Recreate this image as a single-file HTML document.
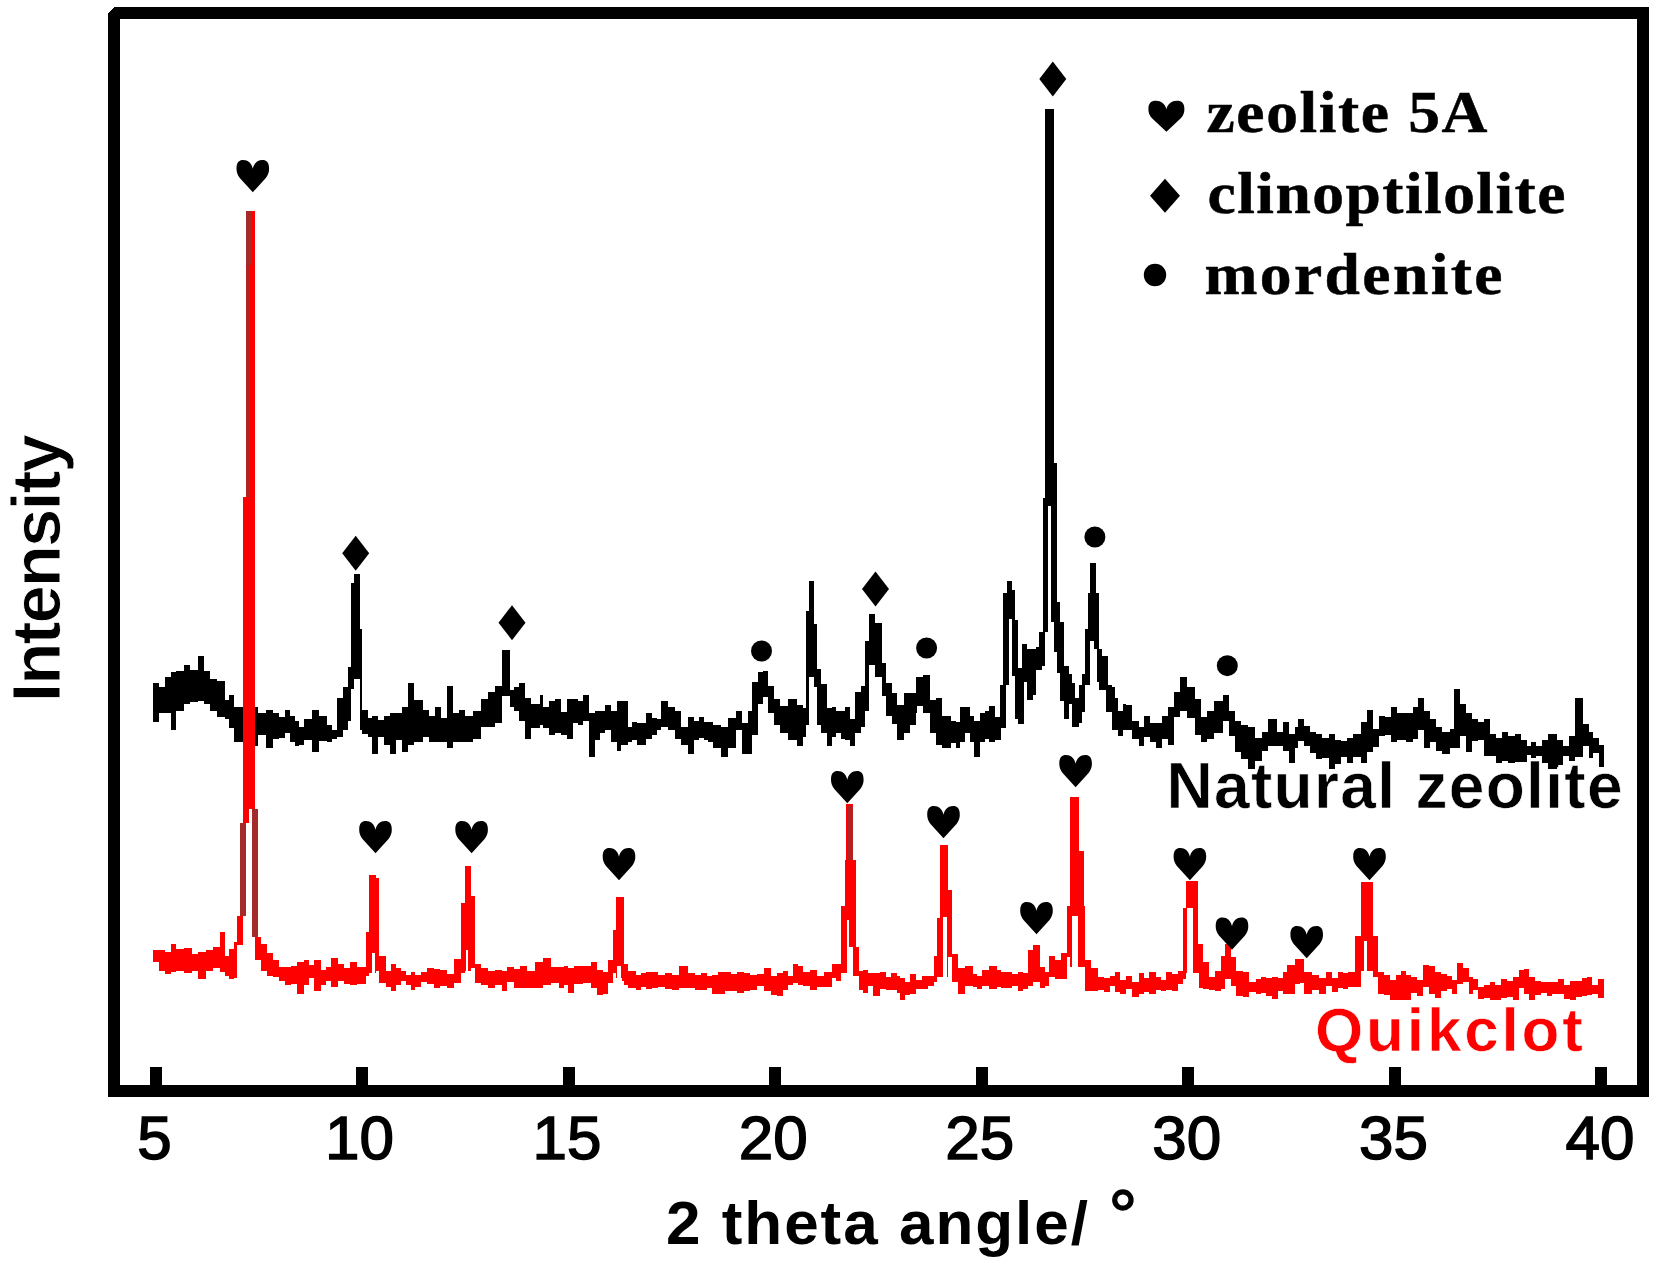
<!DOCTYPE html>
<html lang="en"><head><meta charset="utf-8"><title>XRD patterns of natural zeolite and Quikclot</title>
<style>html,body{margin:0;padding:0;background:#fff}body{width:1656px;height:1266px;overflow:hidden}svg{display:block}.sans{font-family:"Liberation Sans",Arial,Helvetica,sans-serif}.serif{font-family:"Liberation Serif","Times New Roman",Times,serif}</style></head><body>
<svg width="1656" height="1266" viewBox="0 0 1656 1266">
<rect x="0" y="0" width="1656" height="1266" fill="#fff"/>
<g class="sans" font-weight="bold" fill="#000">
<text id="lbl-nz" x="1166.5" y="808" font-size="64" textLength="456" lengthAdjust="spacing" stroke="#fff" stroke-width="0.6">Natural zeolite</text>
</g>
<g id="curve-natural-zeolite" fill="#000" stroke="none" shape-rendering="crispEdges">
<path d="M153.3 683.0 L159.3 683.0 L159.3 686.7 L165.4 686.7 L165.4 677.0 L171.4 677.0 L171.4 672.2 L176.2 672.2 L176.2 671.0 L183.5 671.0 L183.5 664.9 L189.5 664.9 L189.5 669.8 L198.0 669.8 L198.0 656.0 L204.0 656.0 L204.0 671.0 L210.0 671.0 L210.0 679.4 L217.3 679.4 L217.3 680.6 L224.5 680.6 L224.5 699.5 L229.4 699.5 L229.4 695.1 L234.2 695.1 L234.2 707.2 L242.7 707.2 L242.7 708.4 L248.7 708.4 L248.7 716.9 L254.7 716.9 L254.7 707.2 L258.4 707.2 L258.4 713.2 L265.6 713.2 L265.6 709.6 L272.9 709.6 L272.9 713.2 L278.9 713.2 L278.9 716.6 L284.9 716.6 L284.9 709.6 L289.8 709.6 L289.8 716.0 L294.6 716.0 L294.6 720.5 L299.4 720.5 L299.4 726.8 L304.3 726.8 L304.3 719.3 L311.5 719.3 L311.5 709.6 L318.7 709.6 L318.7 715.7 L327.2 715.7 L327.2 725.3 L332.0 725.3 L332.0 729.8 L336.9 729.8 L336.9 697.5 L342.9 697.5 L342.9 686.7 L347.7 686.7 L347.7 667.3 L351.4 667.3 L351.4 582.8 L353.8 582.8 L353.8 574.3 L359.8 574.3 L359.8 628.7 L362.2 628.7 L362.2 709.6 L368.3 709.6 L368.3 718.1 L371.9 718.1 L371.9 715.7 L377.9 715.7 L377.9 719.5 L384.0 719.5 L384.0 715.7 L390.0 715.7 L390.0 713.2 L396.0 713.2 L396.0 713.2 L402.1 713.2 L402.1 707.2 L408.1 707.2 L408.1 683.0 L414.2 683.0 L414.2 700.0 L422.6 700.0 L422.6 709.6 L428.6 709.6 L428.6 716.1 L434.7 716.1 L434.7 707.2 L440.7 707.2 L440.7 718.1 L446.8 718.1 L446.8 685.5 L452.8 685.5 L452.8 713.2 L458.8 713.2 L458.8 709.6 L464.9 709.6 L464.9 715.7 L473.3 715.7 L473.3 710.8 L480.6 710.8 L480.6 698.7 L487.8 698.7 L487.8 691.5 L495.1 691.5 L495.1 685.5 L502.3 685.5 L502.3 650.4 L509.6 650.4 L509.6 689.6 L514.4 689.6 L514.4 686.7 L519.2 686.7 L519.2 683.0 L525.3 683.0 L525.3 697.5 L531.3 697.5 L531.3 703.6 L540.0 703.6 L540.0 695.1 L542.9 695.1 L542.9 707.2 L549.0 707.2 L549.0 701.2 L555.0 701.2 L555.0 698.7 L561.1 698.7 L561.1 712.0 L567.1 712.0 L567.1 698.7 L573.1 698.7 L573.1 698.7 L578.0 698.7 L578.0 700.6 L582.8 700.6 L582.8 695.1 L588.8 695.1 L588.8 713.2 L594.9 713.2 L594.9 711.4 L599.7 711.4 L599.7 710.8 L604.5 710.8 L604.5 704.8 L610.6 704.8 L610.6 710.8 L616.6 710.8 L616.6 701.2 L621.4 701.2 L621.4 701.2 L627.5 701.2 L627.5 726.9 L632.3 726.9 L632.3 721.7 L637.1 721.7 L637.1 722.9 L645.6 722.9 L645.6 713.2 L651.6 713.2 L651.6 718.1 L656.5 718.1 L656.5 719.2 L661.3 719.2 L661.3 701.2 L667.9 701.2 L667.9 707.3 L674.6 707.3 L674.6 710.8 L680.6 710.8 L680.6 726.5 L687.9 726.5 L687.9 716.9 L693.9 716.9 L693.9 720.8 L698.7 720.8 L698.7 716.9 L703.6 716.9 L703.6 722.2 L708.4 722.2 L708.4 721.7 L713.2 721.7 L713.2 725.3 L720.5 725.3 L720.5 726.5 L727.7 726.5 L727.7 718.1 L736.2 718.1 L736.2 710.8 L742.2 710.8 L742.2 722.9 L748.3 722.9 L748.3 710.8 L751.9 710.8 L751.9 681.8 L757.9 681.8 L757.9 672.3 L762.8 672.3 L762.8 671.0 L767.6 671.0 L767.6 685.5 L773.6 685.5 L773.6 698.7 L779.7 698.7 L779.7 706.0 L788.1 706.0 L788.1 698.7 L796.6 698.7 L796.6 704.8 L802.6 704.8 L802.6 708.4 L806.2 708.4 L806.2 610.6 L808.6 610.6 L808.6 580.9 L813.5 580.9 L813.5 623.9 L817.1 623.9 L817.1 668.6 L820.7 668.6 L820.7 684.3 L826.8 684.3 L826.8 708.4 L831.6 708.4 L831.6 707.2 L836.4 707.2 L836.4 711.4 L841.3 711.4 L841.3 710.8 L844.9 710.8 L844.9 707.2 L849.7 707.2 L849.7 718.6 L854.5 718.6 L854.5 691.5 L860.6 691.5 L860.6 685.5 L865.4 685.5 L865.4 640.8 L869.0 640.8 L869.0 614.2 L875.1 614.2 L875.1 622.7 L882.3 622.7 L882.3 662.5 L885.9 662.5 L885.9 683.0 L892.0 683.0 L892.0 692.7 L896.8 692.7 L896.8 704.8 L904.1 704.8 L904.1 692.7 L910.1 692.7 L910.1 692.7 L916.1 692.7 L916.1 677.0 L916.9 677.0 L916.9 677.0 L922.9 677.0 L922.9 674.6 L930.2 674.6 L930.2 700.0 L936.2 700.0 L936.2 697.5 L942.3 697.5 L942.3 715.7 L950.7 715.7 L950.7 720.5 L955.6 720.5 L955.6 721.5 L960.4 721.5 L960.4 707.2 L965.2 707.2 L965.2 707.2 L970.0 707.2 L970.0 715.7 L973.7 715.7 L973.7 720.5 L979.7 720.5 L979.7 712.8 L984.5 712.8 L984.5 710.8 L989.4 710.8 L989.4 706.0 L995.4 706.0 L995.4 716.7 L1001.4 716.7 L1001.4 739.9 L995.4 739.9 L995.4 742.2 L989.4 742.2 L989.4 738.5 L984.5 738.5 L984.5 742.2 L979.7 742.2 L979.7 756.7 L973.7 756.7 L973.7 742.2 L970.0 742.2 L970.0 733.1 L965.2 733.1 L965.2 742.2 L960.4 742.2 L960.4 748.3 L955.6 748.3 L955.6 742.9 L950.7 742.9 L950.7 748.3 L942.3 748.3 L942.3 744.6 L936.2 744.6 L936.2 732.6 L930.2 732.6 L930.2 713.2 L922.9 713.2 L922.9 706.0 L916.9 706.0 L916.9 713.2 L916.1 713.2 L916.1 725.3 L910.1 725.3 L910.1 732.6 L904.1 732.6 L904.1 739.8 L896.8 739.8 L896.8 724.1 L892.0 724.1 L892.0 715.7 L885.9 715.7 L885.9 696.3 L882.3 696.3 L882.3 677.0 L875.1 677.0 L875.1 664.9 L869.0 664.9 L869.0 710.8 L865.4 710.8 L865.4 726.5 L860.6 726.5 L860.6 732.6 L854.5 732.6 L854.5 745.8 L849.7 745.8 L849.7 739.9 L844.9 739.9 L844.9 738.6 L841.3 738.6 L841.3 733.0 L836.4 733.0 L836.4 737.4 L831.6 737.4 L831.6 745.8 L826.8 745.8 L826.8 732.6 L820.7 732.6 L820.7 725.3 L817.1 725.3 L817.1 686.7 L813.5 686.7 L813.5 677.0 L808.6 677.0 L808.6 725.3 L806.2 725.3 L806.2 737.4 L802.6 737.4 L802.6 745.8 L796.6 745.8 L796.6 739.8 L788.1 739.8 L788.1 732.6 L779.7 732.6 L779.7 725.3 L773.6 725.3 L773.6 713.2 L767.6 713.2 L767.6 696.7 L762.8 696.7 L762.8 703.6 L757.9 703.6 L757.9 735.0 L751.9 735.0 L751.9 754.3 L748.3 754.3 L748.3 754.3 L742.2 754.3 L742.2 730.1 L736.2 730.1 L736.2 748.3 L727.7 748.3 L727.7 756.7 L720.5 756.7 L720.5 748.3 L713.2 748.3 L713.2 742.2 L708.4 742.2 L708.4 740.2 L703.6 740.2 L703.6 738.4 L698.7 738.4 L698.7 739.8 L693.9 739.8 L693.9 754.3 L687.9 754.3 L687.9 744.6 L680.6 744.6 L680.6 738.6 L674.6 738.6 L674.6 730.1 L667.9 730.1 L667.9 726.9 L661.3 726.9 L661.3 730.3 L656.5 730.3 L656.5 735.0 L651.6 735.0 L651.6 738.6 L645.6 738.6 L645.6 744.6 L637.1 744.6 L637.1 739.8 L632.3 739.8 L632.3 742.2 L627.5 742.2 L627.5 744.6 L621.4 744.6 L621.4 750.7 L616.6 750.7 L616.6 742.2 L610.6 742.2 L610.6 730.1 L604.5 730.1 L604.5 733.1 L599.7 733.1 L599.7 739.8 L594.9 739.8 L594.9 756.7 L588.8 756.7 L588.8 720.5 L582.8 720.5 L582.8 725.3 L578.0 725.3 L578.0 722.8 L573.1 722.8 L573.1 738.6 L567.1 738.6 L567.1 735.0 L561.1 735.0 L561.1 732.6 L555.0 732.6 L555.0 735.0 L549.0 735.0 L549.0 727.7 L542.9 727.7 L542.9 725.3 L540.0 725.3 L540.0 727.7 L531.3 727.7 L531.3 738.6 L525.3 738.6 L525.3 720.5 L519.2 720.5 L519.2 710.8 L514.4 710.8 L514.4 706.8 L509.6 706.8 L509.6 696.3 L502.3 696.3 L502.3 722.9 L495.1 722.9 L495.1 726.5 L487.8 726.5 L487.8 726.5 L480.6 726.5 L480.6 738.6 L473.3 738.6 L473.3 742.2 L464.9 742.2 L464.9 742.2 L458.8 742.2 L458.8 742.2 L452.8 742.2 L452.8 748.3 L446.8 748.3 L446.8 742.2 L440.7 742.2 L440.7 742.2 L434.7 742.2 L434.7 742.2 L428.6 742.2 L428.6 737.3 L422.6 737.3 L422.6 742.2 L414.2 742.2 L414.2 744.6 L408.1 744.6 L408.1 751.9 L402.1 751.9 L402.1 739.8 L396.0 739.8 L396.0 754.3 L390.0 754.3 L390.0 744.6 L384.0 744.6 L384.0 737.3 L377.9 737.3 L377.9 754.3 L371.9 754.3 L371.9 737.4 L368.3 737.4 L368.3 733.8 L362.2 733.8 L362.2 730.1 L359.8 730.1 L359.8 679.4 L353.8 679.4 L353.8 689.1 L351.4 689.1 L351.4 720.5 L347.7 720.5 L347.7 730.1 L342.9 730.1 L342.9 737.4 L336.9 737.4 L336.9 739.2 L332.0 739.2 L332.0 742.2 L327.2 742.2 L327.2 741.0 L318.7 741.0 L318.7 751.9 L311.5 751.9 L311.5 739.8 L304.3 739.8 L304.3 745.4 L299.4 745.4 L299.4 745.8 L294.6 745.8 L294.6 742.2 L289.8 742.2 L289.8 732.8 L284.9 732.8 L284.9 737.5 L278.9 737.5 L278.9 738.6 L272.9 738.6 L272.9 748.3 L265.6 748.3 L265.6 735.0 L258.4 735.0 L258.4 745.8 L254.7 745.8 L254.7 738.4 L248.7 738.4 L248.7 743.4 L242.7 743.4 L242.7 742.2 L234.2 742.2 L234.2 727.7 L229.4 727.7 L229.4 719.4 L224.5 719.4 L224.5 716.9 L217.3 716.9 L217.3 710.8 L210.0 710.8 L210.0 703.6 L204.0 703.6 L204.0 701.2 L198.0 701.2 L198.0 702.4 L189.5 702.4 L189.5 703.6 L183.5 703.6 L183.5 710.8 L176.2 710.8 L176.2 730.1 L171.4 730.1 L171.4 713.2 L165.4 713.2 L165.4 713.2 L159.3 713.2 L159.3 721.7 L153.3 721.7Z"/>
<path d="M1125.8 704.8 L1131.9 704.8 L1131.9 720.5 L1139.1 720.5 L1139.1 726.5 L1144.0 726.5 L1144.0 715.7 L1150.0 715.7 L1150.0 722.9 L1156.0 722.9 L1156.0 722.9 L1162.1 722.9 L1162.1 715.7 L1168.1 715.7 L1168.1 707.2 L1174.2 707.2 L1174.2 691.5 L1180.2 691.5 L1180.2 677.0 L1187.4 677.0 L1187.4 686.7 L1194.7 686.7 L1194.7 698.7 L1200.7 698.7 L1200.7 716.9 L1206.8 716.9 L1206.8 710.8 L1214.0 710.8 L1214.0 701.2 L1222.5 701.2 L1222.5 695.1 L1228.5 695.1 L1228.5 710.8 L1234.5 710.8 L1234.5 720.5 L1240.6 720.5 L1240.6 725.3 L1247.8 725.3 L1247.8 726.5 L1255.1 726.5 L1255.1 737.5 L1262.0 737.5 L1262.0 731.5 L1268.1 731.5 L1268.1 719.4 L1276.5 719.4 L1276.5 731.5 L1282.6 731.5 L1282.6 721.8 L1288.6 721.8 L1288.6 733.9 L1294.6 733.9 L1294.6 726.7 L1298.3 726.7 L1298.3 719.4 L1304.3 719.4 L1304.3 725.5 L1310.3 725.5 L1310.3 731.5 L1316.4 731.5 L1316.4 733.9 L1322.4 733.9 L1322.4 737.5 L1328.5 737.5 L1328.5 733.9 L1334.5 733.9 L1334.5 740.0 L1340.5 740.0 L1340.5 741.2 L1346.6 741.2 L1346.6 737.5 L1352.6 737.5 L1352.6 733.9 L1361.1 733.9 L1361.1 721.8 L1367.1 721.8 L1367.1 710.2 L1373.1 710.2 L1373.1 729.1 L1379.2 729.1 L1379.2 715.8 L1385.2 715.8 L1385.2 717.0 L1391.3 717.0 L1391.3 707.3 L1397.3 707.3 L1397.3 713.4 L1405.8 713.4 L1405.8 713.4 L1413.0 713.4 L1413.0 707.3 L1417.8 707.3 L1417.8 697.7 L1423.9 697.7 L1423.9 711.0 L1429.9 711.0 L1429.9 719.4 L1436.0 719.4 L1436.0 726.7 L1442.0 726.7 L1442.0 731.5 L1450.4 731.5 L1450.4 729.1 L1454.1 729.1 L1454.1 689.2 L1460.1 689.2 L1460.1 703.7 L1466.1 703.7 L1466.1 713.4 L1472.2 713.4 L1472.2 719.4 L1478.2 719.4 L1478.2 721.8 L1484.3 721.8 L1484.3 719.4 L1490.3 719.4 L1490.3 733.9 L1496.3 733.9 L1496.3 737.5 L1502.4 737.5 L1502.4 731.5 L1508.4 731.5 L1508.4 736.3 L1514.5 736.3 L1514.5 733.9 L1520.5 733.9 L1520.5 740.0 L1526.5 740.0 L1526.5 745.5 L1531.4 745.5 L1531.4 742.4 L1536.2 742.4 L1536.2 746.0 L1542.2 746.0 L1542.2 740.0 L1548.3 740.0 L1548.3 733.9 L1556.7 733.9 L1556.7 740.0 L1562.8 740.0 L1562.8 746.0 L1568.8 746.0 L1568.8 736.3 L1574.8 736.3 L1574.8 697.7 L1583.3 697.7 L1583.3 724.3 L1589.3 724.3 L1589.3 731.5 L1593.0 731.5 L1593.0 737.5 L1599.0 737.5 L1599.0 744.8 L1603.8 744.8 L1603.8 766.5 L1599.0 766.5 L1599.0 753.2 L1593.0 753.2 L1593.0 758.1 L1589.3 758.1 L1589.3 746.0 L1583.3 746.0 L1583.3 756.9 L1574.8 756.9 L1574.8 760.5 L1568.8 760.5 L1568.8 755.7 L1562.8 755.7 L1562.8 765.3 L1556.7 765.3 L1556.7 768.9 L1548.3 768.9 L1548.3 762.9 L1542.2 762.9 L1542.2 755.7 L1536.2 755.7 L1536.2 758.1 L1531.4 758.1 L1531.4 754.9 L1526.5 754.9 L1526.5 761.7 L1520.5 761.7 L1520.5 761.7 L1514.5 761.7 L1514.5 762.9 L1508.4 762.9 L1508.4 760.5 L1502.4 760.5 L1502.4 762.9 L1496.3 762.9 L1496.3 755.7 L1490.3 755.7 L1490.3 755.7 L1484.3 755.7 L1484.3 740.0 L1478.2 740.0 L1478.2 741.2 L1472.2 741.2 L1472.2 752.0 L1466.1 752.0 L1466.1 736.3 L1460.1 736.3 L1460.1 748.4 L1454.1 748.4 L1454.1 748.4 L1450.4 748.4 L1450.4 754.4 L1442.0 754.4 L1442.0 750.8 L1436.0 750.8 L1436.0 742.4 L1429.9 742.4 L1429.9 748.4 L1423.9 748.4 L1423.9 730.3 L1417.8 730.3 L1417.8 738.7 L1413.0 738.7 L1413.0 742.4 L1405.8 742.4 L1405.8 740.0 L1397.3 740.0 L1397.3 742.4 L1391.3 742.4 L1391.3 735.1 L1385.2 735.1 L1385.2 736.3 L1379.2 736.3 L1379.2 747.2 L1373.1 747.2 L1373.1 752.0 L1367.1 752.0 L1367.1 762.9 L1361.1 762.9 L1361.1 756.9 L1352.6 756.9 L1352.6 762.9 L1346.6 762.9 L1346.6 756.9 L1340.5 756.9 L1340.5 764.1 L1334.5 764.1 L1334.5 768.9 L1328.5 768.9 L1328.5 758.1 L1322.4 758.1 L1322.4 759.3 L1316.4 759.3 L1316.4 753.2 L1310.3 753.2 L1310.3 746.0 L1304.3 746.0 L1304.3 741.2 L1298.3 741.2 L1298.3 748.4 L1294.6 748.4 L1294.6 762.9 L1288.6 762.9 L1288.6 750.8 L1282.6 750.8 L1282.6 746.0 L1276.5 746.0 L1276.5 746.0 L1268.1 746.0 L1268.1 750.8 L1262.0 750.8 L1262.0 760.5 L1255.1 760.5 L1255.1 768.8 L1247.8 768.8 L1247.8 759.1 L1240.6 759.1 L1240.6 751.9 L1234.5 751.9 L1234.5 736.2 L1228.5 736.2 L1228.5 720.5 L1222.5 720.5 L1222.5 732.6 L1214.0 732.6 L1214.0 738.6 L1206.8 738.6 L1206.8 742.2 L1200.7 742.2 L1200.7 735.0 L1194.7 735.0 L1194.7 718.1 L1187.4 718.1 L1187.4 710.8 L1180.2 710.8 L1180.2 716.9 L1174.2 716.9 L1174.2 744.6 L1168.1 744.6 L1168.1 738.6 L1162.1 738.6 L1162.1 748.3 L1156.0 748.3 L1156.0 742.2 L1150.0 742.2 L1150.0 737.4 L1144.0 737.4 L1144.0 745.8 L1139.1 745.8 L1139.1 738.6 L1131.9 738.6 L1131.9 730.1 L1125.8 730.1Z"/>
<path d="M1000.3 685.4H1005.8V728.0H1000.3Z M1003.4 592.9H1009.0V685.4H1003.4Z M1006.6 580.8H1012.1V619.0H1006.6Z M1012.1 589.8H1015.0V675.9H1012.1Z M1015.0 619.8H1018.4V675.9H1015.0Z M1015.3 675.9H1018.4V718.5H1015.3Z M1018.4 668.0H1024.0V724.1H1018.4Z M1021.6 643.8H1027.1V682.2H1021.6Z M1027.1 649.0H1032.7V700.4H1027.1Z M1032.7 649.0H1035.8V694.8H1032.7Z M1035.8 647.4H1042.1V670.4H1035.8Z M1039.0 631.6H1045.3V666.4H1039.0Z M1042.6 504.0H1048.1V631.6H1042.6Z M1051.3 504.0H1057.2V622.2H1051.3Z M1054.0 601.6H1060.3V652.2H1054.0Z M1057.2 622.2H1063.5V672.7H1057.2Z M1060.3 666.4H1069.0V701.2H1060.3Z M1065.8 674.3H1072.2V701.2H1065.8Z M1069.0 683.0H1075.3V704.3H1069.0Z M1063.5 701.2H1069.0V718.5H1063.5Z M1072.2 698.0H1078.5V727.2H1072.2Z M1075.3 701.2H1081.6V723.3H1075.3Z M1078.5 685.4H1084.8V712.2H1078.5Z M1081.6 674.3H1090.3V685.4H1081.6Z M1084.8 629.3H1090.3V674.3H1084.8Z M1088.0 592.9H1099.0V641.1H1088.0Z M1090.3 562.9H1096.2V592.9H1090.3Z M1093.5 641.1H1099.0V649.0H1093.5Z M1096.7 649.0H1102.2V682.2H1096.7Z M1102.2 656.1H1107.7V690.1H1102.2Z M1099.0 682.2H1105.3V690.1H1099.0Z M1106.1 685.4H1111.7V712.2H1106.1Z M1111.7 686.9H1114.8V729.6H1111.7Z M1114.8 698.0H1118.0V729.6H1114.8Z M1118.0 710.6H1122.7V735.9H1118.0Z M1122.7 704.3H1126.2V729.6H1122.7Z M1045.3 109.0H1054.2V463.0H1045.3Z M1045.3 463.0H1057.4V504.0H1045.3Z M1042.6 498.0H1057.4V506.0H1042.6Z"/>
</g>
<g id="curve-quikclot" fill="#f00" stroke="none" shape-rendering="crispEdges">
<path d="M153.3 950.3 L159.3 950.3 L159.3 950.3 L165.4 950.3 L165.4 951.5 L171.4 951.5 L171.4 944.3 L176.2 944.3 L176.2 949.1 L183.5 949.1 L183.5 947.9 L191.9 947.9 L191.9 953.9 L198.0 953.9 L198.0 951.5 L206.4 951.5 L206.4 950.3 L212.5 950.3 L212.5 946.7 L219.7 946.7 L219.7 932.2 L224.5 932.2 L224.5 956.3 L229.4 956.3 L229.4 949.1 L234.2 949.1 L234.2 941.8 L237.3 941.8 L237.3 978.1 L234.2 978.1 L234.2 979.3 L229.4 979.3 L229.4 975.7 L224.5 975.7 L224.5 972.0 L219.7 972.0 L219.7 968.4 L212.5 968.4 L212.5 970.8 L206.4 970.8 L206.4 979.3 L198.0 979.3 L198.0 970.8 L191.9 970.8 L191.9 973.2 L183.5 973.2 L183.5 970.8 L176.2 970.8 L176.2 972.0 L171.4 972.0 L171.4 974.4 L165.4 974.4 L165.4 970.8 L159.3 970.8 L159.3 962.4 L153.3 962.4Z"/>
<path d="M255.2 937.0 L260.8 937.0 L260.8 944.3 L266.8 944.3 L266.8 952.7 L272.9 952.7 L272.9 960.0 L278.9 960.0 L278.9 967.2 L284.9 967.2 L284.9 967.3 L291.0 967.3 L291.0 966.0 L297.0 966.0 L297.0 962.4 L304.3 962.4 L304.3 960.0 L309.1 960.0 L309.1 965.3 L313.9 965.3 L313.9 960.0 L321.2 960.0 L321.2 969.6 L326.0 969.6 L326.0 967.2 L330.8 967.2 L330.8 957.5 L338.1 957.5 L338.1 963.6 L344.1 963.6 L344.1 968.4 L350.1 968.4 L350.1 962.4 L357.4 962.4 L357.4 967.2 L365.8 967.2 L365.8 932.2 L369.0 932.2 L369.0 875.4 L375.5 875.4 L375.5 877.8 L379.1 877.8 L379.1 956.3 L386.4 956.3 L386.4 970.8 L391.2 970.8 L391.2 963.6 L396.0 963.6 L396.0 968.4 L400.9 968.4 L400.9 971.0 L405.7 971.0 L405.7 974.7 L410.5 974.7 L410.5 972.0 L415.4 972.0 L415.4 975.0 L421.4 975.0 L421.4 972.0 L427.4 972.0 L427.4 968.4 L433.5 968.4 L433.5 968.6 L439.5 968.6 L439.5 969.6 L446.8 969.6 L446.8 973.7 L454.0 973.7 L454.0 958.7 L461.3 958.7 L461.3 903.2 L464.9 903.2 L464.9 865.7 L471.4 865.7 L471.4 895.9 L474.5 895.9 L474.5 963.6 L480.6 963.6 L480.6 968.4 L487.8 968.4 L487.8 971.0 L495.1 971.0 L495.1 969.6 L502.3 969.6 L502.3 970.8 L507.1 970.8 L507.1 967.2 L513.6 967.2 L513.6 968.8 L520.0 968.8 L520.0 966.0 L527.2 966.0 L527.2 970.8 L534.5 970.8 L534.5 962.4 L542.9 962.4 L542.9 957.5 L551.4 957.5 L551.4 967.2 L558.6 967.2 L558.6 966.6 L563.5 966.6 L563.5 966.0 L568.3 966.0 L568.3 968.4 L574.3 968.4 L574.3 966.0 L582.8 966.0 L582.8 966.0 L591.3 966.0 L591.3 962.4 L597.3 962.4 L597.3 969.6 L602.7 969.6 L602.7 972.1 L608.2 972.1 L608.2 960.0 L613.0 960.0 L613.0 929.8 L616.1 929.8 L616.1 896.7 L623.9 896.7 L623.9 963.6 L627.5 963.6 L627.5 970.8 L635.9 970.8 L635.9 974.6 L641.2 974.6 L641.2 973.4 L646.4 973.4 L646.4 972.0 L651.6 972.0 L651.6 972.0 L658.3 972.0 L658.3 975.0 L664.9 975.0 L664.9 973.2 L672.2 973.2 L672.2 974.8 L679.4 974.8 L679.4 966.0 L687.9 966.0 L687.9 973.2 L694.5 973.2 L694.5 974.9 L701.2 974.9 L701.2 973.2 L706.8 973.2 L706.8 975.9 L712.4 975.9 L712.4 974.8 L718.1 974.8 L718.1 972.4 L724.5 972.4 L724.5 972.0 L731.0 972.0 L731.0 974.1 L737.4 974.1 L737.4 972.0 L743.8 972.0 L743.8 972.5 L750.3 972.5 L750.3 974.5 L756.7 974.5 L756.7 974.3 L764.0 974.3 L764.0 968.4 L771.2 968.4 L771.2 975.8 L777.2 975.8 L777.2 973.2 L783.3 973.2 L783.3 970.8 L788.1 970.8 L788.1 976.1 L792.9 976.1 L792.9 963.6 L797.8 963.6 L797.8 966.1 L802.6 966.1 L802.6 972.4 L809.9 972.4 L809.9 969.6 L817.1 969.6 L817.1 975.8 L824.3 975.8 L824.3 972.0 L831.6 972.0 L831.6 963.6 L836.4 963.6 L836.4 963.9 L841.3 963.9 L841.3 905.6 L844.9 905.6 L844.9 859.7 L846.1 859.7 L846.1 804.2 L853.3 804.2 L853.3 859.7 L855.7 859.7 L855.7 946.7 L859.4 946.7 L859.4 970.8 L863.0 970.8 L863.0 969.6 L867.8 969.6 L867.8 973.3 L872.7 973.3 L872.7 973.2 L879.9 973.2 L879.9 972.0 L885.5 972.0 L885.5 976.5 L891.2 976.5 L891.2 972.6 L896.8 972.6 L896.8 975.7 L900.0 975.7 L900.0 977.9 L904.8 977.9 L904.8 981.6 L909.7 981.6 L909.7 974.3 L915.7 974.3 L915.7 979.6 L921.7 979.6 L921.7 975.5 L927.8 975.5 L927.8 975.9 L933.8 975.9 L933.8 956.2 L937.4 956.2 L937.4 917.5 L939.9 917.5 L939.9 845.1 L948.3 845.1 L948.3 889.8 L951.9 889.8 L951.9 954.4 L958.0 954.4 L958.0 968.3 L965.2 968.3 L965.2 965.8 L972.5 965.8 L972.5 974.3 L977.3 974.3 L977.3 975.6 L982.1 975.6 L982.1 970.3 L989.4 970.3 L989.4 965.8 L996.6 965.8 L996.6 969.5 L1001.4 969.5 L1001.4 972.4 L1006.3 972.4 L1006.3 971.9 L1012.3 971.9 L1012.3 974.0 L1018.4 974.0 L1018.4 971.9 L1023.2 971.9 L1023.2 973.3 L1028.0 973.3 L1028.0 950.1 L1032.9 950.1 L1032.9 944.8 L1040.1 944.8 L1040.1 967.1 L1044.9 967.1 L1044.9 971.9 L1048.6 971.9 L1048.6 956.2 L1054.6 956.2 L1054.6 959.8 L1060.6 959.8 L1060.6 952.6 L1066.7 952.6 L1066.7 905.5 L1070.3 905.5 L1070.3 797.2 L1078.7 797.2 L1078.7 851.1 L1083.6 851.1 L1083.6 905.5 L1084.8 905.5 L1084.8 959.8 L1090.8 959.8 L1090.8 968.3 L1098.1 968.3 L1098.1 976.7 L1104.1 976.7 L1104.1 977.6 L1110.1 977.6 L1110.1 975.5 L1115.0 975.5 L1115.0 971.9 L1119.8 971.9 L1119.8 980.2 L1125.8 980.2 L1125.8 975.5 L1131.9 975.5 L1131.9 981.5 L1139.1 981.5 L1139.1 973.1 L1144.0 973.1 L1144.0 977.6 L1148.8 977.6 L1148.8 971.9 L1156.0 971.9 L1156.0 976.7 L1160.9 976.7 L1160.9 979.7 L1165.7 979.7 L1165.7 971.9 L1171.7 971.9 L1171.7 973.6 L1177.8 973.6 L1177.8 970.7 L1182.6 970.7 L1182.6 907.9 L1186.2 907.9 L1186.2 880.8 L1198.3 880.8 L1198.3 944.1 L1203.1 944.1 L1203.1 962.2 L1209.2 962.2 L1209.2 976.5 L1215.2 976.5 L1215.2 970.7 L1221.3 970.7 L1221.3 956.2 L1224.9 956.2 L1224.9 944.1 L1230.9 944.1 L1230.9 957.4 L1235.7 957.4 L1235.7 970.7 L1243.0 970.7 L1243.0 971.9 L1249.0 971.9 L1249.0 981.5 L1256.0 981.5 L1256.0 978.9 L1260.8 978.9 L1260.8 977.0 L1265.7 977.0 L1265.7 977.5 L1271.7 977.5 L1271.7 977.0 L1277.7 977.0 L1277.7 978.4 L1282.6 978.4 L1282.6 972.2 L1287.4 972.2 L1287.4 964.9 L1294.6 964.9 L1294.6 959.1 L1299.5 959.1 L1299.5 958.9 L1304.3 958.9 L1304.3 972.2 L1311.6 972.2 L1311.6 974.6 L1318.8 974.6 L1318.8 977.7 L1326.0 977.7 L1326.0 972.2 L1332.1 972.2 L1332.1 977.5 L1338.1 977.5 L1338.1 972.2 L1343.0 972.2 L1343.0 972.8 L1347.8 972.8 L1347.8 972.2 L1355.0 972.2 L1355.0 935.9 L1361.1 935.9 L1361.1 881.6 L1373.1 881.6 L1373.1 935.9 L1378.0 935.9 L1378.0 972.2 L1384.0 972.2 L1384.0 974.6 L1390.1 974.6 L1390.1 980.0 L1396.1 980.0 L1396.1 974.6 L1400.9 974.6 L1400.9 971.0 L1405.8 971.0 L1405.8 974.6 L1410.6 974.6 L1410.6 977.0 L1416.6 977.0 L1416.6 979.6 L1422.7 979.6 L1422.7 964.9 L1428.7 964.9 L1428.7 966.2 L1434.7 966.2 L1434.7 972.2 L1440.8 972.2 L1440.8 974.0 L1446.8 974.0 L1446.8 975.8 L1451.7 975.8 L1451.7 980.0 L1456.5 980.0 L1456.5 962.5 L1462.5 962.5 L1462.5 968.0 L1468.6 968.0 L1468.6 977.0 L1473.4 977.0 L1473.4 978.7 L1478.2 978.7 L1478.2 987.2 L1483.9 987.2 L1483.9 985.0 L1489.5 985.0 L1489.5 981.8 L1495.1 981.8 L1495.1 985.4 L1501.2 985.4 L1501.2 979.4 L1507.2 979.4 L1507.2 980.9 L1513.2 980.9 L1513.2 977.0 L1519.3 977.0 L1519.3 970.1 L1524.1 970.1 L1524.1 968.6 L1528.9 968.6 L1528.9 977.0 L1535.0 977.0 L1535.0 980.7 L1541.0 980.7 L1541.0 981.8 L1546.7 981.8 L1546.7 982.4 L1552.3 982.4 L1552.3 982.2 L1557.9 982.2 L1557.9 979.4 L1564.0 979.4 L1564.0 984.7 L1570.0 984.7 L1570.0 980.6 L1576.0 980.6 L1576.0 980.6 L1582.1 980.6 L1582.1 977.7 L1586.9 977.7 L1586.9 977.0 L1591.7 977.0 L1591.7 984.6 L1597.8 984.6 L1597.8 979.4 L1603.8 979.4 L1603.8 997.5 L1597.8 997.5 L1597.8 994.0 L1591.7 994.0 L1591.7 995.4 L1586.9 995.4 L1586.9 996.3 L1582.1 996.3 L1582.1 996.5 L1576.0 996.5 L1576.0 1000.0 L1570.0 1000.0 L1570.0 998.7 L1564.0 998.7 L1564.0 994.2 L1557.9 994.2 L1557.9 994.0 L1552.3 994.0 L1552.3 996.3 L1546.7 996.3 L1546.7 992.5 L1541.0 992.5 L1541.0 994.7 L1535.0 994.7 L1535.0 1000.0 L1528.9 1000.0 L1528.9 993.9 L1524.1 993.9 L1524.1 987.5 L1519.3 987.5 L1519.3 1000.0 L1513.2 1000.0 L1513.2 996.7 L1507.2 996.7 L1507.2 998.4 L1501.2 998.4 L1501.2 1000.0 L1495.1 1000.0 L1495.1 1000.0 L1489.5 1000.0 L1489.5 998.1 L1483.9 998.1 L1483.9 998.7 L1478.2 998.7 L1478.2 990.2 L1473.4 990.2 L1473.4 993.9 L1468.6 993.9 L1468.6 982.0 L1462.5 982.0 L1462.5 984.3 L1456.5 984.3 L1456.5 993.9 L1451.7 993.9 L1451.7 988.7 L1446.8 988.7 L1446.8 990.6 L1440.8 990.6 L1440.8 997.5 L1434.7 997.5 L1434.7 993.9 L1428.7 993.9 L1428.7 986.5 L1422.7 986.5 L1422.7 996.3 L1416.6 996.3 L1416.6 993.3 L1410.6 993.3 L1410.6 1000.0 L1405.8 1000.0 L1405.8 1000.0 L1400.9 1000.0 L1400.9 1000.0 L1396.1 1000.0 L1396.1 1000.0 L1390.1 1000.0 L1390.1 995.3 L1384.0 995.3 L1384.0 993.9 L1378.0 993.9 L1378.0 977.0 L1373.1 977.0 L1373.1 989.1 L1361.1 989.1 L1361.1 986.7 L1355.0 986.7 L1355.0 986.7 L1347.8 986.7 L1347.8 989.1 L1343.0 989.1 L1343.0 988.4 L1338.1 988.4 L1338.1 991.5 L1332.1 991.5 L1332.1 985.8 L1326.0 985.8 L1326.0 993.9 L1318.8 993.9 L1318.8 990.2 L1311.6 990.2 L1311.6 993.9 L1304.3 993.9 L1304.3 983.0 L1299.5 983.0 L1299.5 984.3 L1294.6 984.3 L1294.6 993.9 L1287.4 993.9 L1287.4 993.9 L1282.6 993.9 L1282.6 990.8 L1277.7 990.8 L1277.7 998.7 L1271.7 998.7 L1271.7 996.4 L1265.7 996.4 L1265.7 992.8 L1260.8 992.8 L1260.8 993.9 L1256.0 993.9 L1256.0 992.4 L1249.0 992.4 L1249.0 997.2 L1243.0 997.2 L1243.0 996.0 L1235.7 996.0 L1235.7 986.4 L1230.9 986.4 L1230.9 979.1 L1224.9 979.1 L1224.9 988.8 L1221.3 988.8 L1221.3 991.2 L1215.2 991.2 L1215.2 989.7 L1209.2 989.7 L1209.2 988.8 L1203.1 988.8 L1203.1 987.6 L1198.3 987.6 L1198.3 979.1 L1186.2 979.1 L1186.2 979.1 L1182.6 979.1 L1182.6 984.0 L1177.8 984.0 L1177.8 991.2 L1171.7 991.2 L1171.7 989.7 L1165.7 989.7 L1165.7 991.2 L1160.9 991.2 L1160.9 989.9 L1156.0 989.9 L1156.0 993.6 L1148.8 993.6 L1148.8 992.2 L1144.0 992.2 L1144.0 993.6 L1139.1 993.6 L1139.1 997.2 L1131.9 997.2 L1131.9 988.6 L1125.8 988.6 L1125.8 993.6 L1119.8 993.6 L1119.8 992.4 L1115.0 992.4 L1115.0 986.3 L1110.1 986.3 L1110.1 992.4 L1104.1 992.4 L1104.1 990.2 L1098.1 990.2 L1098.1 991.2 L1090.8 991.2 L1090.8 991.2 L1084.8 991.2 L1084.8 967.1 L1083.6 967.1 L1083.6 967.1 L1078.7 967.1 L1078.7 967.1 L1070.3 967.1 L1070.3 957.4 L1066.7 957.4 L1066.7 979.1 L1060.6 979.1 L1060.6 979.1 L1054.6 979.1 L1054.6 976.7 L1048.6 976.7 L1048.6 986.4 L1044.9 986.4 L1044.9 987.6 L1040.1 987.6 L1040.1 981.5 L1032.9 981.5 L1032.9 986.4 L1028.0 986.4 L1028.0 989.4 L1023.2 989.4 L1023.2 991.2 L1018.4 991.2 L1018.4 986.0 L1012.3 986.0 L1012.3 987.6 L1006.3 987.6 L1006.3 987.6 L1001.4 987.6 L1001.4 987.1 L996.6 987.1 L996.6 988.8 L989.4 988.8 L989.4 986.0 L982.1 986.0 L982.1 988.8 L977.3 988.8 L977.3 986.5 L972.5 986.5 L972.5 986.4 L965.2 986.4 L965.2 993.6 L958.0 993.6 L958.0 981.5 L951.9 981.5 L951.9 957.4 L948.3 957.4 L948.3 976.7 L939.9 976.7 L939.9 976.7 L937.4 976.7 L937.4 981.5 L933.8 981.5 L933.8 985.7 L927.8 985.7 L927.8 988.8 L921.7 988.8 L921.7 989.0 L915.7 989.0 L915.7 993.6 L909.7 993.6 L909.7 995.1 L904.8 995.1 L904.8 999.7 L900.0 999.7 L900.0 992.6 L896.8 992.6 L896.8 989.7 L891.2 989.7 L891.2 990.1 L885.5 990.1 L885.5 989.4 L879.9 989.4 L879.9 996.2 L872.7 996.2 L872.7 986.4 L867.8 986.4 L867.8 992.6 L863.0 992.6 L863.0 990.1 L859.4 990.1 L859.4 975.7 L855.7 975.7 L855.7 975.7 L853.3 975.7 L853.3 973.2 L846.1 973.2 L846.1 973.2 L844.9 973.2 L844.9 973.2 L841.3 973.2 L841.3 980.5 L836.4 980.5 L836.4 978.1 L831.6 978.1 L831.6 986.5 L824.3 986.5 L824.3 986.5 L817.1 986.5 L817.1 990.1 L809.9 990.1 L809.9 986.0 L802.6 986.0 L802.6 985.3 L797.8 985.3 L797.8 982.7 L792.9 982.7 L792.9 984.8 L788.1 984.8 L788.1 990.1 L783.3 990.1 L783.3 996.2 L777.2 996.2 L777.2 995.2 L771.2 995.2 L771.2 991.4 L764.0 991.4 L764.0 985.6 L756.7 985.6 L756.7 990.2 L750.3 990.2 L750.3 990.5 L743.8 990.5 L743.8 992.6 L737.4 992.6 L737.4 990.8 L731.0 990.8 L731.0 990.8 L724.5 990.8 L724.5 993.8 L718.1 993.8 L718.1 993.8 L712.4 993.8 L712.4 988.4 L706.8 988.4 L706.8 990.2 L701.2 990.2 L701.2 990.1 L694.5 990.1 L694.5 988.3 L687.9 988.3 L687.9 987.7 L679.4 987.7 L679.4 990.1 L672.2 990.1 L672.2 989.1 L664.9 989.1 L664.9 986.5 L658.3 986.5 L658.3 987.7 L651.6 987.7 L651.6 988.9 L646.4 988.9 L646.4 987.4 L641.2 987.4 L641.2 990.1 L635.9 990.1 L635.9 987.7 L627.5 987.7 L627.5 985.3 L623.9 985.3 L623.9 980.5 L616.1 980.5 L616.1 973.2 L613.0 973.2 L613.0 982.9 L608.2 982.9 L608.2 993.5 L602.7 993.5 L602.7 995.0 L597.3 995.0 L597.3 987.7 L591.3 987.7 L591.3 982.9 L582.8 982.9 L582.8 984.1 L574.3 984.1 L574.3 992.6 L568.3 992.6 L568.3 984.5 L563.5 984.5 L563.5 987.7 L558.6 987.7 L558.6 982.9 L551.4 982.9 L551.4 985.3 L542.9 985.3 L542.9 987.7 L534.5 987.7 L534.5 987.7 L527.2 987.7 L527.2 987.7 L520.0 987.7 L520.0 987.7 L513.6 987.7 L513.6 982.4 L507.1 982.4 L507.1 991.4 L502.3 991.4 L502.3 984.5 L495.1 984.5 L495.1 987.7 L487.8 987.7 L487.8 985.3 L480.6 985.3 L480.6 982.9 L474.5 982.9 L474.5 968.4 L471.4 968.4 L471.4 973.2 L464.9 973.2 L464.9 973.2 L461.3 973.2 L461.3 982.9 L454.0 982.9 L454.0 987.7 L446.8 987.7 L446.8 985.9 L439.5 985.9 L439.5 987.7 L433.5 987.7 L433.5 983.9 L427.4 983.9 L427.4 982.3 L421.4 982.3 L421.4 986.5 L415.4 986.5 L415.4 990.1 L410.5 990.1 L410.5 984.7 L405.7 984.7 L405.7 980.5 L400.9 980.5 L400.9 985.3 L396.0 985.3 L396.0 991.4 L391.2 991.4 L391.2 986.5 L386.4 986.5 L386.4 982.9 L379.1 982.9 L379.1 970.8 L375.5 970.8 L375.5 973.2 L369.0 973.2 L369.0 975.7 L365.8 975.7 L365.8 984.1 L357.4 984.1 L357.4 985.3 L350.1 985.3 L350.1 984.1 L344.1 984.1 L344.1 980.5 L338.1 980.5 L338.1 986.5 L330.8 986.5 L330.8 980.6 L326.0 980.6 L326.0 985.3 L321.2 985.3 L321.2 991.4 L313.9 991.4 L313.9 977.7 L309.1 977.7 L309.1 985.3 L304.3 985.3 L304.3 993.8 L297.0 993.8 L297.0 984.3 L291.0 984.3 L291.0 985.3 L284.9 985.3 L284.9 980.5 L278.9 980.5 L278.9 976.9 L272.9 976.9 L272.9 975.7 L266.8 975.7 L266.8 970.8 L260.8 970.8 L260.8 960.0 L255.2 960.0Z"/>
<path d="M246.2 211.0H254.5V497.0H246.2Z M243.0 497.0H255.2V809.0H243.0Z M243.0 809.0H249.0V823.0H243.0Z M237.0 916.0H243.0V945.0H237.0Z"/>
</g>
<g shape-rendering="crispEdges">
<rect x="246.2" y="211" width="6" height="54" fill="#a52a2a"/>
<rect x="246.2" y="265" width="2.5" height="232" fill="#b22222"/>
<rect x="240" y="823" width="6" height="93" fill="#a52a2a"/>
<rect x="252" y="809" width="6.2" height="128" fill="#a52a2a"/>
<rect x="372.0" y="953.0" width="3.0" height="47.0" fill="#fff"/>
<rect x="466.0" y="950.0" width="2.3" height="21.0" fill="#fff"/>
<rect x="465.0" y="970.6" width="6.6" height="29.4" fill="#fff"/>
<rect x="616.5" y="966.0" width="4.0" height="12.0" fill="#fff"/>
<rect x="615.0" y="978.0" width="6.6" height="22.0" fill="#fff"/>
<rect x="846.9" y="920.0" width="2.5" height="27.0" fill="#fff"/>
<rect x="846.9" y="947.0" width="6.1" height="53.0" fill="#fff"/>
<rect x="942.6" y="917.0" width="4.8" height="83.0" fill="#fff"/>
<rect x="1072.3" y="916.0" width="5.8" height="84.0" fill="#fff"/>
<rect x="1187.1" y="908.0" width="5.5" height="92.0" fill="#fff"/>
<rect x="1186.2" y="972.6" width="12.8" height="27.4" fill="#fff"/>
<rect x="1364.0" y="941.0" width="3.2" height="59.0" fill="#fff"/>
<rect x="1360.9" y="971.0" width="12.0" height="29.0" fill="#fff"/>
<rect x="846.9" y="806" width="6.1" height="54" fill="#b22222"/>
</g>
<g id="axes" shape-rendering="crispEdges">
<rect x="114" y="13" width="1529" height="1078" fill="none" stroke="#000" stroke-width="12"/>
<rect x="150.0" y="1067" width="12" height="19" fill="#000"/>
<rect x="356.4" y="1067" width="12" height="19" fill="#000"/>
<rect x="562.9" y="1067" width="12" height="19" fill="#000"/>
<rect x="769.3" y="1067" width="12" height="19" fill="#000"/>
<rect x="975.7" y="1067" width="12" height="19" fill="#000"/>
<rect x="1182.2" y="1067" width="12" height="19" fill="#000"/>
<rect x="1388.6" y="1067" width="12" height="19" fill="#000"/>
<rect x="1595.0" y="1067" width="12" height="19" fill="#000"/>
<path d="M107 6H115.5L107 14.5Z" fill="#fff"/>
</g>
<g id="tick-labels" class="sans" font-size="62" fill="#000" stroke="#000" stroke-width="1.5" text-anchor="middle">
<text x="154.5" y="1159.3">5</text>
<text x="359.4" y="1159.3">10</text>
<text x="566.9" y="1159.3">15</text>
<text x="773.3" y="1159.3">20</text>
<text x="979.7" y="1159.3">25</text>
<text x="1186.7" y="1159.3">30</text>
<text x="1393.6" y="1159.3">35</text>
<text x="1600.0" y="1159.3">40</text>
</g>
<g class="sans" font-weight="bold" fill="#000">
<text id="xlabel" x="666" y="1243.5" font-size="62" textLength="422" lengthAdjust="spacing">2 theta angle/</text>
<text id="xdeg" x="1108.4" y="1239.9" font-size="72" font-weight="normal" stroke="#000" stroke-width="1.4">°</text>
<text id="ylabel" transform="translate(59.7 702) rotate(-90)" font-size="69" textLength="268" lengthAdjust="spacing" stroke="#fff" stroke-width="0.9">Intensity</text>
<text id="lbl-qc" x="1315" y="1051.2" font-size="62" fill="#f00" textLength="268" lengthAdjust="spacing" stroke="#fff" stroke-width="0.6">Quikclot</text>
</g>
<g id="legend" class="serif" font-weight="bold" font-size="60" fill="#000" stroke="#000" stroke-width="0.5">
<text id="lg1" transform="translate(1206.5 131.7) scale(1.060 1)" textLength="265.1" lengthAdjust="spacing">zeolite 5A</text>
<text id="lg2" transform="translate(1207.5 212.6) scale(1.060 1)" textLength="337.7" lengthAdjust="spacing">clinoptilolite</text>
<text id="lg3" transform="translate(1204.5 294.1) scale(1.060 1)" textLength="281.1" lengthAdjust="spacing">mordenite</text>
</g>
<g id="markers" fill="#000">
<path d="M252.8 192.2 L239.8 178.0 C237.5 175.1 236.5 172.2 236.5 168.7 C236.5 162.6 238.8 160.0 243.3 160.0 C247.9 160.0 251.7 163.2 252.8 168.7 C253.9 163.2 257.7 160.0 262.3 160.0 C266.8 160.0 269.1 162.6 269.1 168.7 C269.1 172.2 268.1 175.1 265.8 178.0Z"/>
<path d="M375.5 853.2 L362.5 839.0 C360.2 836.1 359.2 833.2 359.2 829.7 C359.2 823.6 361.5 821.0 366.0 821.0 C370.6 821.0 374.4 824.2 375.5 829.7 C376.6 824.2 380.4 821.0 385.0 821.0 C389.5 821.0 391.8 823.6 391.8 829.7 C391.8 833.2 390.8 836.1 388.5 839.0Z"/>
<path d="M471.6 853.2 L458.6 839.0 C456.3 836.1 455.3 833.2 455.3 829.7 C455.3 823.6 457.6 821.0 462.1 821.0 C466.7 821.0 470.5 824.2 471.6 829.7 C472.7 824.2 476.5 821.0 481.1 821.0 C485.6 821.0 487.9 823.6 487.9 829.7 C487.9 833.2 486.9 836.1 484.6 839.0Z"/>
<path d="M619.0 880.2 L606.0 866.0 C603.7 863.1 602.7 860.2 602.7 856.7 C602.7 850.6 605.0 848.0 609.5 848.0 C614.1 848.0 617.9 851.2 619.0 856.7 C620.1 851.2 623.9 848.0 628.5 848.0 C633.0 848.0 635.3 850.6 635.3 856.7 C635.3 860.2 634.3 863.1 632.0 866.0Z"/>
<path d="M847.3 803.2 L834.3 789.0 C832.0 786.1 831.0 783.2 831.0 779.7 C831.0 773.6 833.3 771.0 837.8 771.0 C842.4 771.0 846.2 774.2 847.3 779.7 C848.4 774.2 852.2 771.0 856.8 771.0 C861.3 771.0 863.6 773.6 863.6 779.7 C863.6 783.2 862.6 786.1 860.3 789.0Z"/>
<path d="M943.5 838.2 L930.5 824.0 C928.2 821.1 927.2 818.2 927.2 814.7 C927.2 808.6 929.5 806.0 934.0 806.0 C938.6 806.0 942.4 809.2 943.5 814.7 C944.6 809.2 948.4 806.0 953.0 806.0 C957.5 806.0 959.8 808.6 959.8 814.7 C959.8 818.2 958.8 821.1 956.5 824.0Z"/>
<path d="M1036.5 934.2 L1023.5 920.0 C1021.2 917.1 1020.2 914.2 1020.2 910.7 C1020.2 904.6 1022.5 902.0 1027.0 902.0 C1031.6 902.0 1035.4 905.2 1036.5 910.7 C1037.6 905.2 1041.4 902.0 1046.0 902.0 C1050.5 902.0 1052.8 904.6 1052.8 910.7 C1052.8 914.2 1051.8 917.1 1049.5 920.0Z"/>
<path d="M1075.6 787.2 L1062.6 773.0 C1060.3 770.1 1059.3 767.2 1059.3 763.7 C1059.3 757.6 1061.6 755.0 1066.1 755.0 C1070.7 755.0 1074.5 758.2 1075.6 763.7 C1076.7 758.2 1080.5 755.0 1085.1 755.0 C1089.6 755.0 1091.9 757.6 1091.9 763.7 C1091.9 767.2 1090.9 770.1 1088.6 773.0Z"/>
<path d="M1189.9 880.2 L1176.9 866.0 C1174.6 863.1 1173.6 860.2 1173.6 856.7 C1173.6 850.6 1175.9 848.0 1180.4 848.0 C1185.0 848.0 1188.8 851.2 1189.9 856.7 C1191.0 851.2 1194.8 848.0 1199.4 848.0 C1203.9 848.0 1206.2 850.6 1206.2 856.7 C1206.2 860.2 1205.2 863.1 1202.9 866.0Z"/>
<path d="M1232.0 949.7 L1219.0 935.5 C1216.7 932.6 1215.7 929.7 1215.7 926.2 C1215.7 920.1 1218.0 917.5 1222.5 917.5 C1227.1 917.5 1230.9 920.7 1232.0 926.2 C1233.1 920.7 1236.9 917.5 1241.5 917.5 C1246.0 917.5 1248.3 920.1 1248.3 926.2 C1248.3 929.7 1247.3 932.6 1245.0 935.5Z"/>
<path d="M1306.7 958.2 L1293.7 944.0 C1291.4 941.1 1290.4 938.2 1290.4 934.7 C1290.4 928.6 1292.7 926.0 1297.2 926.0 C1301.8 926.0 1305.6 929.2 1306.7 934.7 C1307.8 929.2 1311.6 926.0 1316.2 926.0 C1320.7 926.0 1323.0 928.6 1323.0 934.7 C1323.0 938.2 1322.0 941.1 1319.7 944.0Z"/>
<path d="M1369.5 880.2 L1356.5 866.0 C1354.2 863.1 1353.2 860.2 1353.2 856.7 C1353.2 850.6 1355.5 848.0 1360.0 848.0 C1364.6 848.0 1368.4 851.2 1369.5 856.7 C1370.6 851.2 1374.4 848.0 1379.0 848.0 C1383.5 848.0 1385.8 850.6 1385.8 856.7 C1385.8 860.2 1384.8 863.1 1382.5 866.0Z"/>
<path d="M1166.4 131.8 L1152.0 118.2 C1149.5 115.4 1148.4 112.6 1148.4 109.2 C1148.4 103.3 1150.9 100.8 1156.0 100.8 C1161.0 100.8 1165.1 103.9 1166.4 109.2 C1167.7 103.9 1171.8 100.8 1176.8 100.8 C1181.9 100.8 1184.4 103.3 1184.4 109.2 C1184.4 112.6 1183.3 115.4 1180.8 118.2Z"/>
<path d="M1052.8 61.5 L1066.3 79.0 L1052.8 96.5 L1039.3 79.0Z"/>
<path d="M355.7 535.8 L369.2 553.3 L355.7 570.8 L342.2 553.3Z"/>
<path d="M512.0 605.2 L525.5 622.7 L512.0 640.2 L498.5 622.7Z"/>
<path d="M875.5 571.5 L889.0 589.0 L875.5 606.5 L862.0 589.0Z"/>
<path d="M1165.0 178.8 L1180.0 195.8 L1165.0 212.8 L1150.0 195.8Z"/>
<circle cx="761.5" cy="651.0" r="10.5"/>
<circle cx="926.6" cy="648.0" r="10.5"/>
<circle cx="1094.9" cy="537.0" r="10.5"/>
<circle cx="1227.3" cy="665.7" r="10.5"/>
<circle cx="1155" cy="275" r="11.2"/>
</g>
</svg></body></html>
